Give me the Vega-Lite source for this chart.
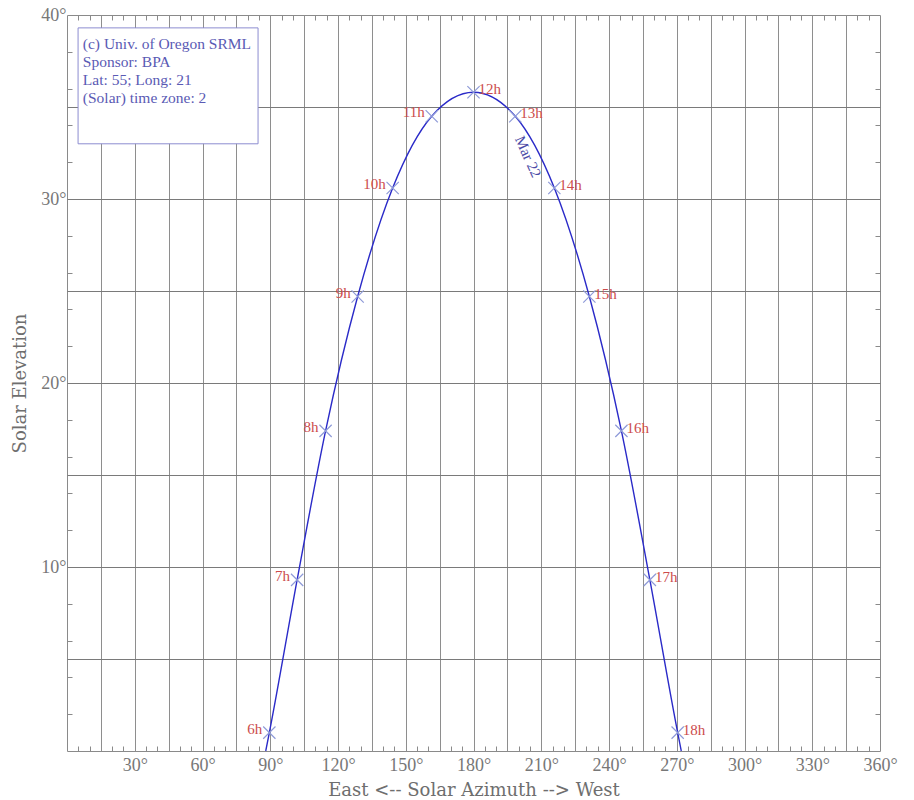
{
  "$schema": "https://vega.github.io/schema/vega-lite/v6.json",
  "width": 813,
  "height": 736,
  "autosize": "none",
  "padding": {"left": 67, "top": 15, "right": 34, "bottom": 49},
  "background": "white",
  "config": {
    "view": {"stroke": "#8a8a8a", "strokeWidth": 1},
    "font": "Liberation Serif"
  },
  "datasets": {
    "sun": [
      {"az": 88.0, "el": 0.0, "hour": null, "label": null},
      {"az": 89.6, "el": 1.0, "hour": 6, "label": "6h"},
      {"az": 101.9, "el": 9.3, "hour": 7, "label": "7h"},
      {"az": 114.5, "el": 17.4, "hour": 8, "label": "8h"},
      {"az": 128.7, "el": 24.7, "hour": 9, "label": "9h"},
      {"az": 144.2, "el": 30.6, "hour": 10, "label": "10h"},
      {"az": 161.5, "el": 34.5, "hour": 11, "label": "11h"},
      {"az": 180.0, "el": 35.8, "hour": 12, "label": "12h"},
      {"az": 198.5, "el": 34.5, "hour": 13, "label": "13h"},
      {"az": 215.8, "el": 30.6, "hour": 14, "label": "14h"},
      {"az": 231.3, "el": 24.7, "hour": 15, "label": "15h"},
      {"az": 245.5, "el": 17.4, "hour": 16, "label": "16h"},
      {"az": 258.1, "el": 9.3, "hour": 17, "label": "17h"},
      {"az": 270.4, "el": 1.0, "hour": 18, "label": "18h"},
      {"az": 272.0, "el": 0.0, "hour": null, "label": null}
    ],
    "note": [
      {"note": "(c) Univ. of Oregon SRML|Sponsor: BPA|Lat: 55; Long: 21|(Solar) time zone: 2", "date": "Mar 22"}
    ]
  },
  "layer": [
    {
      "data": {"name": "sun"},
      "mark": {"type": "line", "interpolate": "monotone", "color": "#2a2ac8", "strokeWidth": 1.4},
      "encoding": {
        "x": {
          "field": "az", "type": "quantitative",
          "scale": {"domain": [0, 360], "nice": false, "zero": false},
          "axis": {
            "orient": "bottom",
            "values": [5,10,15,20,25,30,35,40,45,50,55,60,65,70,75,80,85,90,95,100,105,110,115,120,125,130,135,140,145,150,155,160,165,170,175,180,185,190,195,200,205,210,215,220,225,230,235,240,245,250,255,260,265,270,275,280,285,290,295,300,305,310,315,320,325,330,335,340,345,350,355,360],
            "grid": true,
            "gridColor": "#8e8e8e",
            "gridWidth": 1,
            "gridOpacity": {"condition": {"test": "datum.value % 15 === 0 && datum.value < 360", "value": 1}, "value": 0},
            "ticks": true,
            "tickSize": -5,
            "tickColor": "#8a8a8a",
            "tickOpacity": {"condition": {"test": "datum.value % 15 === 0", "value": 0}, "value": 1},
            "domain": false,
            "labelExpr": "datum.value % 30 === 0 ? datum.value + '°' : ''",
            "labelOverlap": false,
            "labelFlush": false,
            "labelFont": "Liberation Serif",
            "labelFontSize": 18,
            "labelColor": "#777777",
            "labelPadding": 10,
            "title": "East <-- Solar Azimuth --> West",
            "titleFont": "DejaVu Serif",
            "titleFontSize": 18,
            "titleFontWeight": "normal",
            "titleColor": "#6e6e6e",
            "titlePadding": 7
          }
        },
        "y": {
          "field": "el", "type": "quantitative",
          "scale": {"domain": [0, 40], "nice": false, "zero": false},
          "axis": {
            "orient": "left",
            "values": [1,2,3,4,5,6,7,8,9,10,11,12,13,14,15,16,17,18,19,20,21,22,23,24,25,26,27,28,29,30,31,32,33,34,35,36,37,38,39,40],
            "grid": true,
            "gridColor": "#7a7a7a",
            "gridWidth": 1,
            "gridOpacity": {"condition": {"test": "datum.value % 5 === 0 && datum.value < 40", "value": 1}, "value": 0},
            "ticks": true,
            "tickSize": -5,
            "tickColor": "#8a8a8a",
            "tickOpacity": {"condition": {"test": "datum.value % 2 === 0 && datum.value % 10 !== 0", "value": 1}, "value": 0},
            "domain": false,
            "labelExpr": "datum.value % 10 === 0 ? datum.value + '°' : ''",
            "labelOverlap": false,
            "labelFlush": false,
            "labelFont": "Liberation Serif",
            "labelFontSize": 18,
            "labelColor": "#777777",
            "labelPadding": 6,
            "title": "Solar Elevation",
            "titleFont": "DejaVu Serif",
            "titleFontSize": 18,
            "titleFontWeight": "normal",
            "titleColor": "#6e6e6e",
            "titlePadding": 11
          }
        }
      }
    },
    {
      "data": {"name": "sun"},
      "transform": [{"filter": "datum.hour != null"}],
      "mark": {"type": "point", "shape": "M-1,-1L1,1M-1,1L1,-1", "filled": false, "stroke": "#8e9ad8", "strokeWidth": 1.2, "size": 150, "opacity": 1},
      "encoding": {
        "x": {
          "field": "az", "type": "quantitative",
          "scale": {"domain": [0, 360], "nice": false, "zero": false},
          "axis": {
            "orient": "top",
            "values": [5,10,20,25,35,40,50,55,65,70,80,85,95,100,110,115,125,130,140,145,155,160,170,175,185,190,200,205,215,220,230,235,245,250,260,265,275,280,290,295,305,310,320,325,335,340,350,355],
            "grid": false,
            "ticks": true,
            "tickSize": -5,
            "tickColor": "#8a8a8a",
            "domain": false,
            "labels": false,
            "title": null
          }
        },
        "y": {
          "field": "el", "type": "quantitative",
          "scale": {"domain": [0, 40], "nice": false, "zero": false},
          "axis": {
            "orient": "right",
            "values": [2,4,6,8,12,14,16,18,22,24,26,28,32,34,36,38],
            "grid": false,
            "ticks": true,
            "tickSize": -5,
            "tickColor": "#8a8a8a",
            "domain": false,
            "labels": false,
            "title": null
          }
        }
      }
    },
    {
      "data": {"name": "sun"},
      "transform": [{"filter": "datum.hour != null && datum.hour < 12"}],
      "mark": {"type": "text", "align": "right", "baseline": "middle", "dx": -7, "dy": -4, "font": "Liberation Serif", "fontSize": 15, "color": "#cc4c4c"},
      "encoding": {
        "x": {"field": "az", "type": "quantitative", "scale": {"domain": [0, 360], "nice": false, "zero": false}, "axis": null},
        "y": {"field": "el", "type": "quantitative", "scale": {"domain": [0, 40], "nice": false, "zero": false}, "axis": null},
        "text": {"field": "label"}
      }
    },
    {
      "data": {"name": "sun"},
      "transform": [{"filter": "datum.hour != null && datum.hour >= 12"}],
      "mark": {"type": "text", "align": "left", "baseline": "middle", "dx": 5, "dy": -3, "font": "Liberation Serif", "fontSize": 15, "color": "#cc4c4c"},
      "encoding": {
        "x": {"field": "az", "type": "quantitative", "scale": {"domain": [0, 360], "nice": false, "zero": false}, "axis": null},
        "y": {"field": "el", "type": "quantitative", "scale": {"domain": [0, 40], "nice": false, "zero": false}, "axis": null},
        "text": {"field": "label"}
      }
    },
    {
      "data": {"name": "note"},
      "mark": {"type": "rect", "fill": "white", "stroke": "#8c8cd0", "strokeWidth": 1},
      "encoding": {
        "x": {"datum": 4.9, "type": "quantitative", "scale": {"domain": [0, 360], "nice": false, "zero": false}, "axis": null},
        "x2": {"datum": 84.6},
        "y": {"datum": 39.3, "type": "quantitative", "scale": {"domain": [0, 40], "nice": false, "zero": false}, "axis": null},
        "y2": {"datum": 33.0}
      }
    },
    {
      "data": {"name": "note"},
      "mark": {"type": "text", "align": "left", "baseline": "middle", "lineBreak": "|", "lineHeight": 18, "font": "Liberation Serif", "fontSize": 15.5, "color": "#5a5ab4"},
      "encoding": {
        "x": {"datum": 7.0, "type": "quantitative", "scale": {"domain": [0, 360], "nice": false, "zero": false}, "axis": null},
        "y": {"datum": 38.42, "type": "quantitative", "scale": {"domain": [0, 40], "nice": false, "zero": false}, "axis": null},
        "text": {"field": "note"}
      }
    },
    {
      "data": {"name": "note"},
      "mark": {"type": "text", "align": "center", "baseline": "middle", "angle": 66, "font": "Liberation Serif", "fontSize": 15, "color": "#4a4aa6"},
      "encoding": {
        "x": {"datum": 204.2, "type": "quantitative", "scale": {"domain": [0, 360], "nice": false, "zero": false}, "axis": null},
        "y": {"datum": 32.3, "type": "quantitative", "scale": {"domain": [0, 40], "nice": false, "zero": false}, "axis": null},
        "text": {"field": "date"}
      }
    }
  ],
  "resolve": {"axis": {"x": "independent", "y": "independent"}}
}
